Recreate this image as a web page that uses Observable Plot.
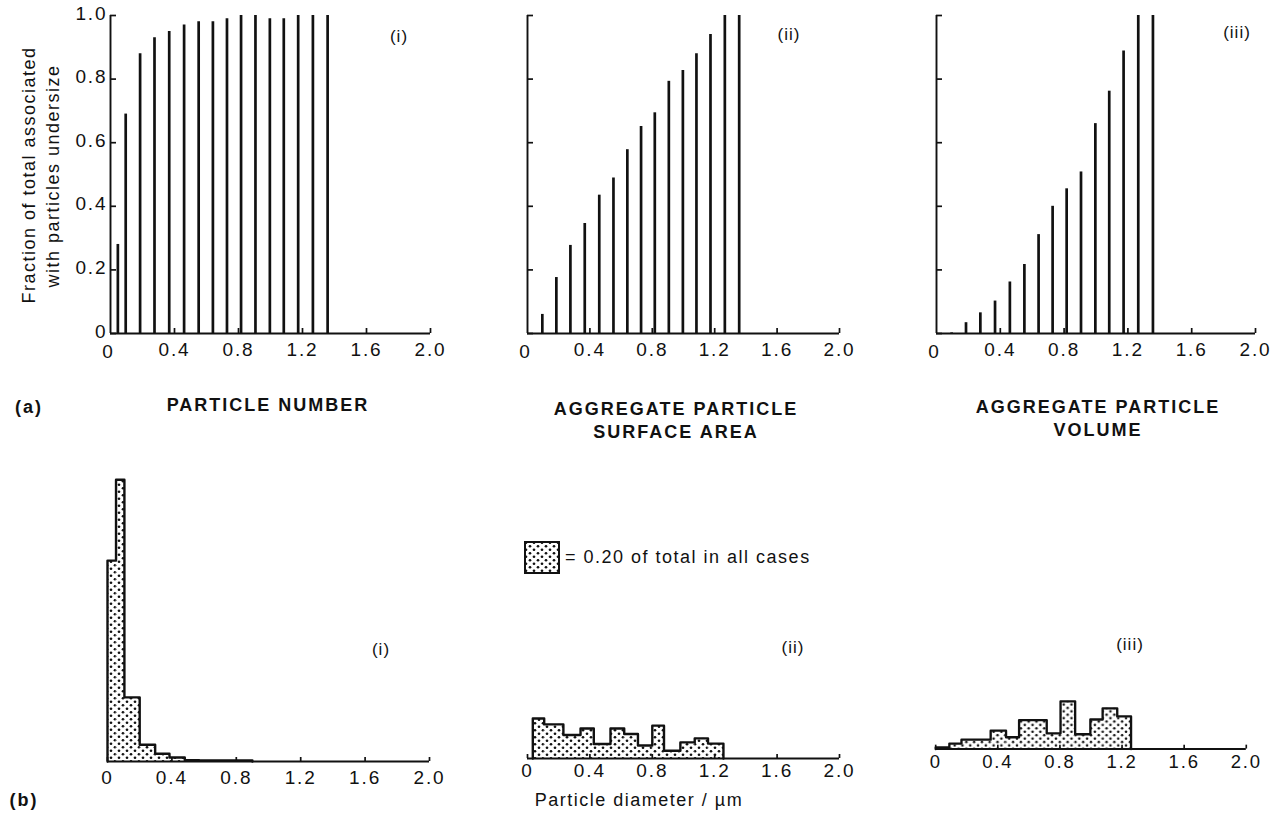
<!DOCTYPE html>
<html><head><meta charset="utf-8">
<script src="https://cdn.jsdelivr.net/npm/d3@7"></script>
<script src="https://cdn.jsdelivr.net/npm/@observablehq/plot@0.6"></script>
<style>
body{margin:0;background:#fff;font-family:"Liberation Sans",Arial,sans-serif;color:#111}
#page{position:relative;width:1275px;height:827px;overflow:hidden;background:#fff}
.abs{position:absolute;white-space:nowrap;transform:translate(-50%,-50%)}
.hd{font-weight:bold;font-size:18px;letter-spacing:2px;text-align:center;line-height:23px}
.lab{font-size:18px;letter-spacing:1.5px}
.rn{font-size:17px;letter-spacing:1px}
.panel{position:absolute}
</style></head><body>
<svg width="0" height="0" style="position:absolute">
<defs><pattern id="dots" width="8" height="7" patternUnits="userSpaceOnUse">
<rect width="8" height="7" fill="#fff"/><circle cx="2" cy="1.75" r="1.35" fill="#111"/><circle cx="6" cy="5.25" r="1.35" fill="#111"/>
</pattern></defs></svg>
<div id="page"></div>
<script>
// ---------- data ----------
// upper size (µm) of each class, shared by the three cumulative plots
const sizes = [0.046, 0.095, 0.185, 0.275, 0.367, 0.46, 0.551, 0.64, 0.728, 0.816, 0.906, 0.996, 1.083, 1.173, 1.265, 1.357];
// (a) cumulative fraction undersize
const cumNumber  = [0.28, 0.69, 0.88, 0.93, 0.95, 0.97, 0.98, 0.98, 0.99, 1.0, 1.0, 0.99, 0.99, 1.0, 1.0, 1.0];
const cumSurface = [null, 0.06, 0.176, 0.277, 0.346, 0.435, 0.489, 0.578, 0.651, 0.694, 0.793, 0.827, 0.88, 0.94, 1.0, 1.0];
const cumVolume  = [null, 0.002, 0.034, 0.065, 0.102, 0.162, 0.217, 0.311, 0.40, 0.455, 0.508, 0.66, 0.762, 0.888, 1.0, 1.0];
// (b) histograms: bin edges (µm) and fraction per µm
const edgesNumber  = [0, 0.053, 0.105, 0.2, 0.296, 0.385, 0.48, 0.57, 0.9];
const densNumber   = [6.48, 9.09, 2.07, 0.54, 0.25, 0.13, 0.04, 0.03];
const edgesSurface = [0.034, 0.107, 0.23, 0.34, 0.425, 0.532, 0.62, 0.708, 0.80, 0.875, 0.98, 1.072, 1.157, 1.256];
const densSurface  = [1.29, 1.10, 0.76, 0.97, 0.47, 0.97, 0.79, 0.42, 1.06, 0.25, 0.52, 0.65, 0.48];
const edgesVolume  = [0, 0.088, 0.166, 0.354, 0.453, 0.537, 0.715, 0.804, 0.898, 0.996, 1.075, 1.169, 1.258];
const densVolume   = [0.05, 0.18, 0.31, 0.61, 0.39, 0.96, 0.52, 1.58, 0.49, 0.98, 1.35, 1.08];
// ticks
const xTicks = [0, 0.4, 0.8, 1.2, 1.6, 2.0];
const yTicks = [0, 0.2, 0.4, 0.6, 0.8, 1.0];
const fmt = d => d === 0 ? "0" : d.toFixed(1);

const FONT = '"Liberation Sans", Arial, sans-serif';
const page = document.getElementById("page");
function place(node, left, top) {
  const d = document.createElement("div");
  d.className = "panel"; d.style.left = left + "px"; d.style.top = top + "px";
  d.appendChild(node); page.appendChild(d);
}
function text(html, cls, x, y) {
  const d = document.createElement("div");
  d.className = "abs " + cls; d.style.left = x + "px"; d.style.top = y + "px";
  d.innerHTML = html; page.appendChild(d);
  return d;
}
const style = {fontFamily: FONT, fontSize: "19px", letterSpacing: "1.9px", background: "transparent", color: "#111", overflow: "visible"};

function topPanel(vals, x0, xw, labels) {
  const data = sizes.map((d, i) => ({d, v: vals[i]})).filter(r => r.v != null);
  const ml = 60, mr = 20;
  const marks = [
    Plot.ruleX(data, {x: "d", y1: 0, y2: "v", strokeWidth: 2.7, stroke: "#111"}),
    Plot.ruleY([0], {stroke: "#111", strokeWidth: 1.9}),
    Plot.ruleX([0], {stroke: "#111", strokeWidth: 1.9}),
    Plot.axisX(xTicks.slice(1), {tickSize: -5, tickPadding: 14, tickFormat: fmt, label: null, strokeWidth: 1.7}),
    Plot.axisX([0], {tickSize: 0, tickPadding: 11, tickFormat: fmt, label: null, dx: -2}),
    Plot.axisY(yTicks, {tickSize: -6, tickFormat: () => "", label: null, strokeWidth: 1.7})
  ];
  if (labels) marks.push(Plot.axisY(yTicks, {tickSize: 0, tickPadding: 3, tickFormat: fmt, label: null, dy: -2}));
  const p = Plot.plot({
    width: ml + xw + mr, height: 363, marginLeft: ml, marginRight: mr, marginTop: 15, marginBottom: 30,
    x: {domain: [0, 2]}, y: {domain: [0, 1]}, style, marks
  });
  place(p, x0 - ml, 0);
}
topPanel(cumNumber, 110, 320, true);
topPanel(cumSurface, 527, 312, false);
topPanel(cumVolume, 936, 319, false);

function bottomPanel(edges, dens, x0, xw, base, pad) {
  const bins = dens.map((v, i) => ({x1: edges[i], x2: edges[i + 1], v}));
  const outline = [{x: edges[0], y: 0}, ...bins.flatMap(b => [{x: b.x1, y: b.v}, {x: b.x2, y: b.v}]), {x: edges[edges.length - 1], y: 0}];
  const ml = 30, mr = 30, mt = 10, ph = 310;
  const p = Plot.plot({
    width: ml + xw + mr, height: mt + ph + 40, marginLeft: ml, marginRight: mr, marginTop: mt, marginBottom: 40,
    x: {domain: [0, 2]}, y: {domain: [0, 10], axis: null}, style,
    marks: [
      Plot.rectY(bins, {x1: "x1", x2: "x2", y1: 0, y2: "v", fill: "url(#dots)"}),
      Plot.line(outline, {x: "x", y: "y", stroke: "#111", strokeWidth: 2.4}),
      Plot.ruleY([0], {stroke: "#111", strokeWidth: 1.9}),
      Plot.axisX(xTicks, {tickSize: -4, tickPadding: pad, tickFormat: fmt, label: null, strokeWidth: 1.7})
    ]
  });
  place(p, x0 - ml, base - ph - mt);
}
bottomPanel(edgesNumber, densNumber, 106.5, 322, 761, 13);
bottomPanel(edgesSurface, densSurface, 527, 312, 758, 9);
bottomPanel(edgesVolume, densVolume, 936, 319, 757, 10);

// ---------- texts ----------
text("Fraction of total associated", "lab", 29, 175).style.transform = "translate(-50%,-50%) rotate(-90deg)";
text("with particles undersize", "lab", 53, 176).style.transform = "translate(-50%,-50%) rotate(-90deg)";
text("(i)", "rn", 399, 37);
text("(ii)", "rn", 789, 35);
text("(iii)", "rn", 1237, 33);
text("(a)", "hd", 29, 407);
text("PARTICLE NUMBER", "hd", 268, 405);
text("AGGREGATE PARTICLE<br>SURFACE AREA", "hd", 676, 421);
text("AGGREGATE PARTICLE<br>VOLUME", "hd", 1098, 419);
text("(i)", "rn", 381, 650);
text("(ii)", "rn", 793, 648);
text("(iii)", "rn", 1130, 645);
text("(b)", "hd", 24, 800);
text("Particle diameter / µm", "lab", 639, 800);
// legend
const lg = document.createElement("div");
lg.style.cssText = "position:absolute;left:524px;top:541px;display:flex;align-items:center;gap:5px";
lg.innerHTML = '<svg width="36" height="33"><rect x="1" y="1" width="34" height="31" fill="url(#dots)" stroke="#111" stroke-width="2"/></svg>' +
  '<span class="lab" style="white-space:nowrap">= 0.20 of total in all cases</span>';
page.appendChild(lg);
</script>
</body></html>
